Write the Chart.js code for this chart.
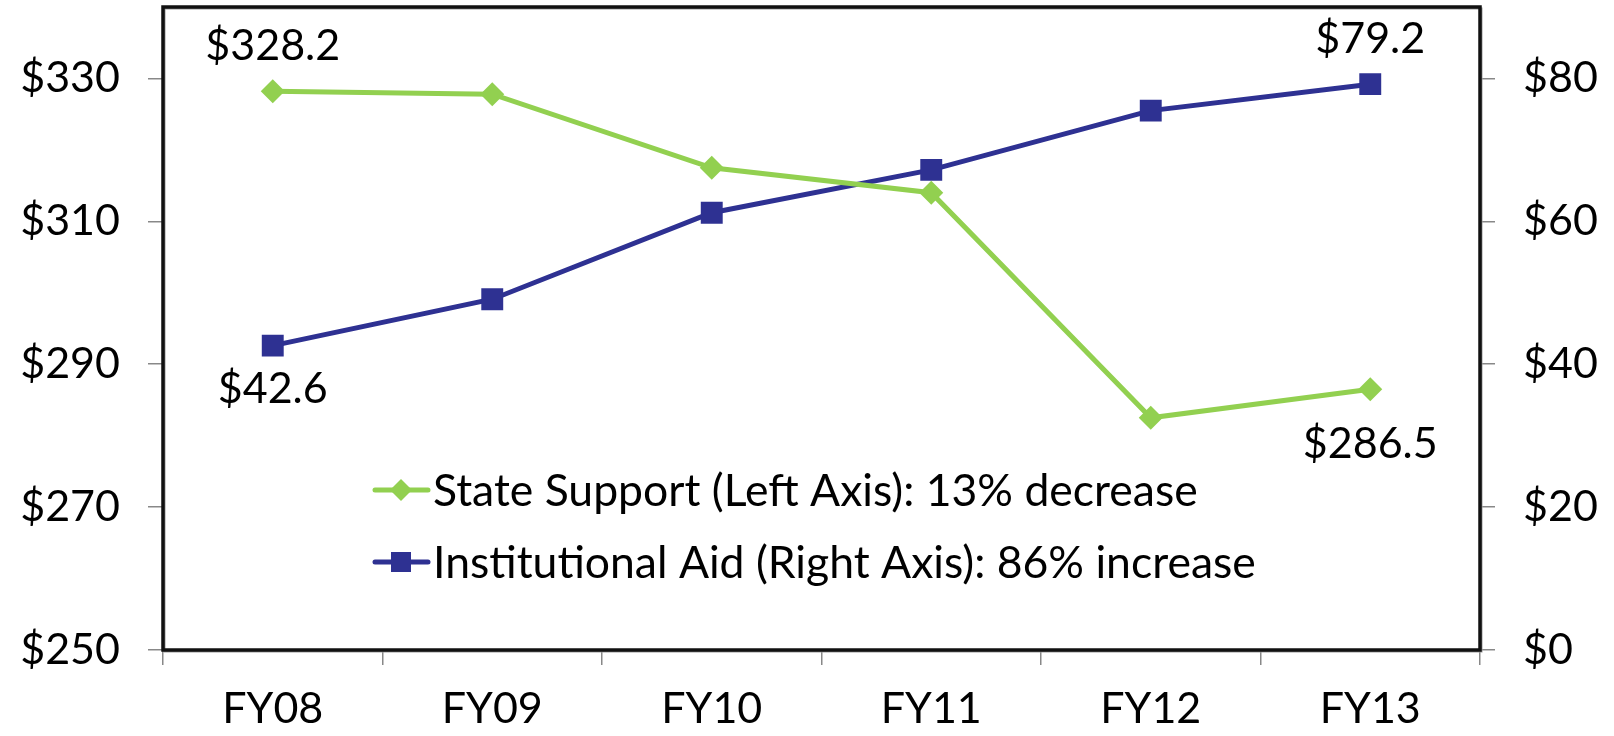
<!DOCTYPE html>
<html lang="en">

<head>
    <title>State Support vs Institutional Aid</title>
    <meta charset="utf-8">
    <script src="https://cdn.jsdelivr.net/npm/chart.js@4.4.1/dist/chart.umd.min.js"></script>
    <style>
        html, body { margin: 0; padding: 0; background: #fff; }
        #wrap { width: 1614px; height: 736px; }
    </style>
</head>

<body>
    <div id="wrap"><canvas id="myChart"></canvas></div>
    <script>
        // data
        var years = ['FY08', 'FY09', 'FY10', 'FY11', 'FY12', 'FY13'];
        var stateSupport = [328.2, 327.8, 317.5, 314.0, 282.5, 286.5];
        var institutionalAid = [42.6, 49.1, 61.2, 67.2, 75.5, 79.2];
        var leftTicks = [250, 270, 290, 310, 330];
        var rightTicks = [0, 20, 40, 60, 80];
        var stateName = 'State Support (Left Axis): 13% decrease';
        var aidName = 'Institutional Aid (Right Axis): 86% increase';

        var FONT = 'Lato, "Open Sans", sans-serif';
        var green = '#92D050';
        var blue = '#2E3192';

        // which points get a value label: side and gap from the point
        var stateLabelSide = { 0: ['top', 24], 5: ['bottom', 33] };
        var aidLabelSide = { 0: ['bottom', 22], 5: ['top', 24] };

        var boxPlugin = {
            id: 'box',
            afterDatasetsDraw: function (chart) {
                var a = chart.chartArea;
                var c = chart.ctx;
                c.save();
                c.strokeStyle = '#999';
                c.lineWidth = 2;
                c.strokeRect(a.left + 1.5, a.top + 1.5, a.right - a.left, a.bottom - a.top);
                c.strokeStyle = '#111';
                c.lineWidth = 3.5;
                c.strokeRect(a.left, a.top, a.right - a.left, a.bottom - a.top);
                c.restore();
            }
        };

        var valueLabels = {
            id: 'valueLabels',
            afterDatasetsDraw: function (chart) {
                var c = chart.ctx;
                c.save();
                c.font = '43px ' + FONT;
                c.fillStyle = '#000';
                c.textAlign = 'center';
                chart.data.datasets.forEach(function (ds, i) {
                    var meta = chart.getDatasetMeta(i);
                    var sides = ds.labelSides || {};
                    for (var k in sides) {
                        var p = meta.data[k];
                        var txt = '$' + ds.data[k].toFixed(1);
                        if (sides[k][0] == 'top') {
                            c.textBaseline = 'bottom';
                            c.fillText(txt, p.x, p.y - sides[k][1]);
                        } else {
                            c.textBaseline = 'top';
                            c.fillText(txt, p.x, p.y + sides[k][1]);
                        }
                    }
                });
                c.restore();
            }
        };

        var insideLegend = {
            id: 'insideLegend',
            afterDraw: function (chart) {
                var c = chart.ctx;
                var rows = [
                    { y: 490, ds: chart.data.datasets[0] },
                    { y: 562, ds: chart.data.datasets[1] }
                ];
                c.save();
                c.font = '44.5px ' + FONT;
                c.textBaseline = 'middle';
                c.textAlign = 'left';
                rows.forEach(function (r) {
                    var x0 = 375, x1 = 428, xm = 401;
                    c.strokeStyle = r.ds.borderColor;
                    c.lineWidth = 5;
                    c.lineCap = 'round';
                    c.beginPath();
                    c.moveTo(x0, r.y);
                    c.lineTo(x1, r.y);
                    c.stroke();
                    c.fillStyle = r.ds.borderColor;
                    if (r.ds.pointStyle == 'rectRot') {
                        c.beginPath();
                        c.moveTo(xm, r.y - 11);
                        c.lineTo(xm + 11, r.y);
                        c.lineTo(xm, r.y + 11);
                        c.lineTo(xm - 11, r.y);
                        c.closePath();
                        c.fill();
                    } else {
                        c.fillRect(xm - 10, r.y - 10, 20, 20);
                    }
                    c.fillStyle = '#000';
                    c.fillText(r.ds.label, 433, r.y + 2);
                });
                c.restore();
            }
        };

        function dollar(v) { return '$' + v; }
        function noPad(s) { s.paddingTop = 0; s.paddingBottom = 0; s.paddingLeft = 0; s.paddingRight = 0; }

        var ctx = document.getElementById('myChart').getContext('2d');
        var chart = new Chart(ctx, {
            type: 'line',
            data: {
                labels: years,
                datasets: [{
                    label: stateName,
                    data: stateSupport,
                    yAxisID: 'yL',
                    borderColor: green,
                    backgroundColor: green,
                    borderWidth: 5,
                    pointStyle: 'rectRot',
                    pointRadius: 12,
                    pointHoverRadius: 12,
                    pointBorderWidth: 0,
                    tension: 0,
                    labelSides: stateLabelSide
                }, {
                    label: aidName,
                    data: institutionalAid,
                    yAxisID: 'yR',
                    borderColor: blue,
                    backgroundColor: blue,
                    borderWidth: 5,
                    pointStyle: 'rect',
                    pointRadius: 15.5,
                    pointHoverRadius: 15.5,
                    pointBorderWidth: 0,
                    tension: 0,
                    labelSides: aidLabelSide
                }]
            },
            options: {
                responsive: true,
                maintainAspectRatio: false,
                animation: false,
                layout: { autoPadding: false, padding: { top: 7, left: 0, right: 0, bottom: 0 } },
                plugins: {
                    legend: { display: false },
                    tooltip: { enabled: false }
                },
                scales: {
                    x: {
                        offset: true,
                        grid: { offset: true, drawOnChartArea: false, tickLength: 15, color: '#888', lineWidth: 1.5 },
                        border: { display: false },
                        ticks: { font: { family: FONT, size: 43 }, color: '#000', padding: 18, maxRotation: 0 },
                        afterFit: function (s) { s.height = 86; noPad(s); }
                    },
                    yL: {
                        position: 'left',
                        min: 250,
                        max: 340,
                        afterBuildTicks: function (s) { s.ticks = leftTicks.map(function (v) { return { value: v }; }); },
                        grid: { drawOnChartArea: false, tickLength: 15, color: '#888', lineWidth: 1.5 },
                        border: { display: false },
                        ticks: { font: { family: FONT, size: 43 }, color: '#000', padding: 28, callback: dollar },
                        afterFit: function (s) { s.width = 163; noPad(s); }
                    },
                    yR: {
                        position: 'right',
                        min: 0,
                        max: 90,
                        afterBuildTicks: function (s) { s.ticks = rightTicks.map(function (v) { return { value: v }; }); },
                        grid: { drawOnChartArea: false, tickLength: 15, color: '#888', lineWidth: 1.5 },
                        border: { display: false },
                        ticks: { font: { family: FONT, size: 43 }, color: '#000', padding: 28, callback: dollar },
                        afterFit: function (s) { s.width = 134; noPad(s); }
                    }
                }
            },
            plugins: [boxPlugin, valueLabels, insideLegend]
        });
    </script>
</body>

</html>
